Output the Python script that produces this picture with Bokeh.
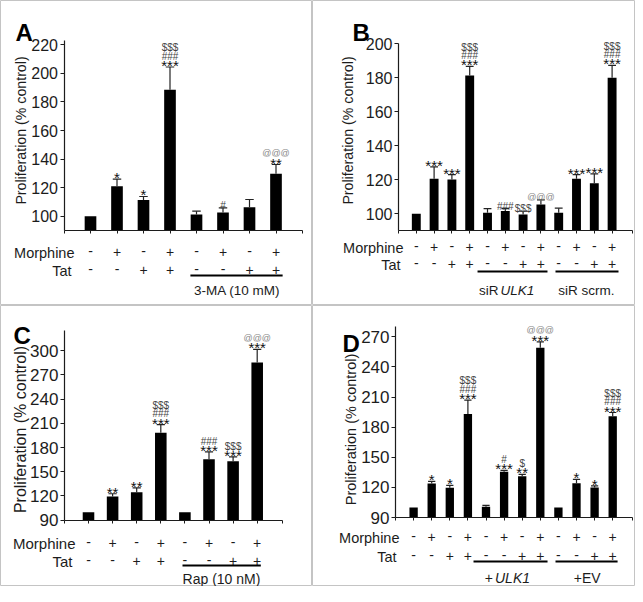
import math
from bokeh.plotting import figure
from bokeh.models import LinearAxis, FixedTicker, Range1d
from bokeh.layouts import gridplot
from bokeh.core.properties import value
from bokeh.embed import file_html
from bokeh.resources import INLINE

FONT = "Liberation Sans"
INK = "#1c1c1c"
YLABEL = "Proliferation (% control)"
ROW_NAMES = ["Morphine", "Tat"]

# ---------------- data ----------------
a_values = [100, 121.0, 111.4, 188.5, 101.2, 102.6, 106.3, 129.7]
a_sem = [0, 5.0, 2.4, 16.0, 2.3, 3.2, 5.4, 6.5]
a_morphine = ["-", "+", "-", "+", "-", "+", "-", "+"]
a_tat = ["-", "-", "+", "+", "-", "-", "+", "+"]
a_stars = ["", "*", "*", "***", "", "", "", "**"]
a_hash = ["", "", "", "###", "", "#", "", ""]
a_dollar = ["", "", "", "$$$", "", "", "", ""]
a_at = ["", "", "", "", "", "", "", "@@@"]
a_yticks = [100, 120, 140, 160, 180, 200, 220]
a_groups = [("3-MA (10 mM)", "")]

b_values = [100, 120.6, 120.2, 181.4, 100.6, 101.6, 99.6, 105.5, 100.6, 120.6, 118.0, 180.0]
b_sem = [0, 7.0, 2.8, 5.3, 2.4, 1.4, 1.9, 2.7, 2.7, 2.4, 5.5, 7.3]
b_morphine = ["-", "+", "-", "+"] * 3
b_tat = ["-", "-", "+", "+"] * 3
b_stars = ["", "***", "***", "***", "", "", "", "", "", "***", "***", "***"]
b_hash = ["", "", "", "###", "", "###", "", "", "", "", "", "###"]
b_dollar = ["", "", "", "$$$", "", "", "$$$", "", "", "", "", "$$$"]
b_at = ["", "", "", "", "", "", "", "@@@", "", "", "", ""]
b_yticks = [100, 120, 140, 160, 180, 200]
b_groups = [("siR", "ULK1"), ("siR scrm.", "")]

c_values = [100, 119.5, 124.7, 198.3, 100, 165.6, 163.0, 285.5]
c_sem = [0, 3.3, 5.3, 10.3, 0, 9.0, 5.5, 16.2]
c_morphine = ["-", "+", "-", "+", "-", "+", "-", "+"]
c_tat = ["-", "-", "+", "+", "-", "-", "+", "+"]
c_stars = ["", "**", "**", "***", "", "***", "***", "***"]
c_hash = ["", "", "", "###", "", "###", "", ""]
c_dollar = ["", "", "", "$$$", "", "", "$$$", ""]
c_at = ["", "", "", "", "", "", "", "@@@"]
c_yticks = [90, 120, 150, 180, 210, 240, 270, 300]
c_groups = [("Rap (10 nM)", "")]

d_values = [100, 123.9, 119.6, 193.0, 100.6, 135.5, 131.2, 259.0, 100, 124.0, 120.0, 191.0]
d_sem = [0, 2.1, 2.4, 14.0, 1.4, 1.5, 1.8, 6.0, 0, 4.0, 1.5, 3.6]
d_morphine = ["-", "+", "-", "+"] * 3
d_tat = ["-", "-", "+", "+"] * 3
d_stars = ["", "*", "*", "***", "", "***", "**", "***", "", "*", "*", "***"]
d_hash = ["", "", "", "###", "", "#", "", "", "", "", "", "###"]
d_dollar = ["", "", "", "$$$", "", "", "$", "", "", "", "", "$$$"]
d_at = ["", "", "", "", "", "", "", "@@@", "", "", "", ""]
d_yticks = [90, 120, 150, 180, 210, 240, 270]
d_groups = [("+", "ULK1"), ("+EV", "")]

# ---------------- layout specs (positions in reference-picture pixels) ----------------
# ref_origin: the reference pixel that sits at the figure's top-left; size: figure size in px
SPEC_A = dict(letter="A", ref_origin=(0, 0), size=(312, 305), axis_x=63.5, dx=26.5,
              yref=(100, 215.7), ppu=1.4278, ybounds=(90, 223), xend=9.0, bar_w=0.44, cap=0.16,
              tick_font=16, ylab=(20, 130), ylab_font=14.2, letter_pos=(15, 32),
              rows=(247, 265), row_right=(74, 71), row_font=14.5,
              line_y=275, spans=[(4.77, 8.25)], label_y=285, label_x=[236.7], label_font=13.5)
SPEC_B = dict(letter="B", ref_origin=(312, 0), size=(323, 305), axis_x=398, dx=17.8,
              yref=(100, 213.3), ppu=1.7, ybounds=(90, 200), xend=13.15, bar_w=0.5, cap=0.22,
              tick_font=16, ylab=(347, 130), ylab_font=14.2, letter_pos=(352, 32),
              rows=(242, 259), row_right=(403, 400), row_font=14.5,
              line_y=271, spans=[(4.44, 8.37), (8.82, 12.36)], label_y=285,
              label_x=[499, 585.8], label_font=13.5)
SPEC_C = dict(letter="C", ref_origin=(0, 312), size=(312, 281), axis_x=63.9, dx=24.1,
              yref=(90, 526.7), ppu=0.8067, ybounds=(90, 325), xend=9.04, bar_w=0.48, cap=0.17,
              tick_font=17, ylab=(20, 436), ylab_font=16, letter_pos=(13, 342),
              rows=(545, 563), row_right=(75, 72), row_font=15,
              line_y=572, spans=[(4.9, 8.15)], label_y=580, label_x=[221], label_font=14)
SPEC_D = dict(letter="D", ref_origin=(312, 312), size=(323, 281), axis_x=395, dx=18.1,
              yref=(90, 524), ppu=1.0037, ybounds=(90, 280), xend=13.1, bar_w=0.46, cap=0.2,
              tick_font=17, ylab=(350, 436), ylab_font=14.5, letter_pos=(342, 350),
              rows=(539, 558), row_right=(399, 396), row_font=14.5,
              line_y=568, spans=[(4.31, 8.4), (8.84, 12.27)], label_y=579,
              label_x=[493.5, 586.7], label_font=14)

ANNOT_STYLE = {
    "star": dict(size=15, c=0.30, color="#111111"),
    "hash": dict(size=10, c=0.36, color="#444444"),
    "dollar": dict(size=10, c=0.37, color="#444444"),
    "at": dict(size=9, c=0.30, color="#888888"),
}


def build(spec, values, sem, morph, tat, stars, hashes, dollars, ats, yticks, groups):
    ox, oy = spec["ref_origin"]
    W, H = spec["size"]
    ax, dx = spec["axis_x"], spec["dx"]
    v0, ry0 = spec["yref"]
    ppu = spec["ppu"]

    def fx(rx):
        return (rx - ax) / dx

    def fy(ry):
        return v0 + (ry0 - ry) / ppu

    p = figure(width=W, height=H, x_range=Range1d(fx(ox), fx(ox + W)),
               y_range=Range1d(fy(oy + H), fy(oy)), output_backend="svg",
               toolbar_location=None, x_axis_location=None, y_axis_location=None,
               min_border=0)
    p.outline_line_color = "#c4c4c4"
    p.outline_line_width = 1
    p.background_fill_color = "white"
    p.border_fill_color = "white"
    for g in p.grid:
        g.visible = False

    ybot, ytop = spec["ybounds"]
    n = len(values)
    idx = list(range(1, n + 1))

    # axes
    yax = LinearAxis(fixed_location=0, bounds=(ybot, ytop), ticker=FixedTicker(ticks=yticks))
    yax.axis_line_color = INK
    yax.axis_line_width = 1.2
    yax.major_tick_line_color = INK
    yax.major_tick_line_width = 1.2
    yax.major_tick_out = 4
    yax.major_tick_in = 0
    yax.minor_tick_line_color = None
    yax.major_label_standoff = 2
    yax.major_label_text_font = FONT
    yax.major_label_text_font_size = "%gpx" % spec["tick_font"]
    yax.major_label_text_color = INK
    p.add_layout(yax, "left")

    xend = spec["xend"]
    xax = LinearAxis(fixed_location=ybot, bounds=(0, xend),
                     ticker=FixedTicker(ticks=[0] + idx + [xend]))
    xax.axis_line_color = INK
    xax.axis_line_width = 1.2
    xax.major_tick_line_color = INK
    xax.major_tick_line_width = 1
    xax.major_tick_out = 3
    xax.major_tick_in = 0
    xax.minor_tick_line_color = None
    xax.major_label_text_color = None
    p.add_layout(xax, "below")

    # bars
    p.vbar(x=idx, top=values, bottom=ybot, width=spec["bar_w"], fill_color="black",
           line_color=None)

    # error bars (upper only)
    ex = [i for i, s in zip(idx, sem) if s > 0]
    ev = [v for v, s in zip(values, sem) if s > 0]
    et = [v + s for v, s in zip(values, sem) if s > 0]
    cap = spec["cap"]
    p.segment(x0=ex, y0=ev, x1=ex, y1=et, line_color="#222222", line_width=1.2)
    p.segment(x0=[x - cap for x in ex], y0=et, x1=[x + cap for x in ex], y1=et,
              line_color="#222222", line_width=1.2)

    # significance marks stacked above the error bars
    buckets = {k: dict(x=[], y=[], t=[], off=[]) for k in ANNOT_STYLE}
    for i in range(n):
        top = values[i] + sem[i]
        stack = [(stars[i], "star"), (hashes[i], "hash"), (dollars[i], "dollar"), (ats[i], "at")]
        stack = [s for s in stack if s[0]]
        for k, (txt, kind) in enumerate(stack):
            st = ANNOT_STYLE[kind]
            center = 6 + 8.5 * k
            b = buckets[kind]
            b["x"].append(idx[i])
            b["y"].append(top)
            b["t"].append(txt)
            b["off"].append(-center + st["c"] * st["size"])
    for kind, b in buckets.items():
        if not b["x"]:
            continue
        st = ANNOT_STYLE[kind]
        p.text(x=b["x"], y=b["y"], text=b["t"], y_offset=b["off"], text_align="center",
               text_baseline="alphabetic", text_font=value(FONT),
               text_font_size="%gpx" % st["size"], text_color=st["color"])

    # treatment rows
    sign_font = 14
    for row_y, signs in zip(spec["rows"], (morph, tat)):
        offs = [(0.33 if s == "+" else 0.27) * sign_font for s in signs]
        p.text(x=idx, y=[fy(row_y)] * n, text=signs, y_offset=offs, text_align="center",
               text_baseline="alphabetic", text_font=value(FONT),
               text_font_size="%gpx" % sign_font, text_color=INK)
    rf = spec["row_font"]
    p.text(x=[fx(r) for r in spec["row_right"]], y=[fy(r) for r in spec["rows"]],
           text=ROW_NAMES, y_offset=0.358 * rf, text_align="right", text_baseline="alphabetic",
           text_font=value(FONT), text_font_size="%gpx" % rf, text_color=INK)

    # group underlines and labels
    ly = fy(spec["line_y"])
    p.segment(x0=[s[0] for s in spec["spans"]], y0=[ly] * len(spec["spans"]),
              x1=[s[1] for s in spec["spans"]], y1=[ly] * len(spec["spans"]),
              line_color="black", line_width=2.2)
    lf = spec["label_font"]
    lab_y = fy(spec["label_y"])
    for (plain, ital), lx in zip(groups, spec["label_x"]):
        if ital:
            p.text(x=[fx(lx - 1)], y=[lab_y], text=[plain], y_offset=0.358 * lf,
                   text_align="right", text_baseline="alphabetic", text_font=value(FONT),
                   text_font_size="%gpx" % lf, text_color=INK)
            p.text(x=[fx(lx + 1)], y=[lab_y], text=[ital], y_offset=0.358 * lf,
                   text_align="left", text_baseline="alphabetic", text_font=value(FONT),
                   text_font_style="italic", text_font_size="%gpx" % lf, text_color=INK)
        else:
            p.text(x=[fx(lx)], y=[lab_y], text=[plain], y_offset=0.358 * lf,
                   text_align="center", text_baseline="alphabetic", text_font=value(FONT),
                   text_font_size="%gpx" % lf, text_color=INK)

    # y-axis title
    yl_x, yl_y = spec["ylab"]
    p.text(x=[fx(yl_x)], y=[fy(yl_y)], text=[YLABEL], angle=math.pi / 2, text_align="center",
           text_baseline="middle", text_font=value(FONT),
           text_font_size="%gpx" % spec["ylab_font"], text_color=INK)

    # panel letter
    lx0, ly0 = spec["letter_pos"]
    p.text(x=[fx(lx0)], y=[fy(ly0)], text=[spec["letter"]], text_align="left",
           text_baseline="alphabetic", text_font=value(FONT), text_font_style="bold",
           text_font_size="24px", text_color="black")
    return p


pa = build(SPEC_A, a_values, a_sem, a_morphine, a_tat, a_stars, a_hash, a_dollar, a_at,
           a_yticks, a_groups)
pb = build(SPEC_B, b_values, b_sem, b_morphine, b_tat, b_stars, b_hash, b_dollar, b_at,
           b_yticks, b_groups)
pc = build(SPEC_C, c_values, c_sem, c_morphine, c_tat, c_stars, c_hash, c_dollar, c_at,
           c_yticks, c_groups)
pd = build(SPEC_D, d_values, d_sem, d_morphine, d_tat, d_stars, d_hash, d_dollar, d_at,
           d_yticks, d_groups)

grid = gridplot([[pa, pb], [pc, pd]], toolbar_location=None)

open("out.html", "w").write(file_html(grid, INLINE))
